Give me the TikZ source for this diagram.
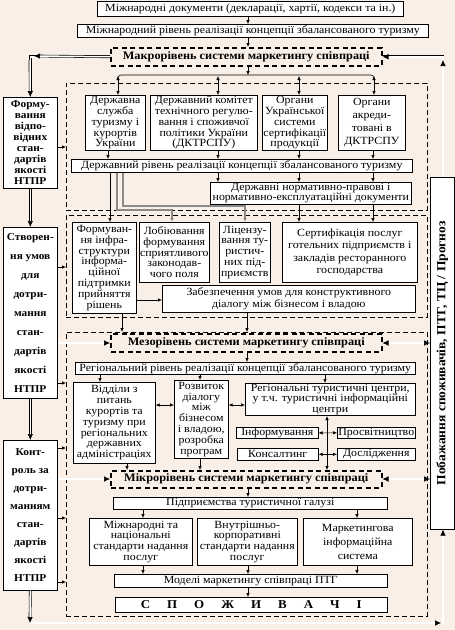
\documentclass[tikz,border=0pt]{standalone}
\usepackage{fontspec}
\setmainfont{Liberation Serif}[FakeStretch=1.08]
\usetikzlibrary{arrows.meta,positioning,calc}
\definecolor{paper}{HTML}{FAEFE6}
\definecolor{lgrey}{HTML}{8A8A8A}

\tikzset{
  box/.style={draw, fill=white, inner sep=0.6pt, align=center, anchor=north west, font=\fontsize{11}{10.8}\selectfont},
  lvlbox/.style={box, fill=paper, line width=1.5pt, dash pattern=on 5pt off 3.5pt, font=\bfseries\fontsize{11.4}{12}\selectfont},
  sidebox/.style={box, font=\bfseries\fontsize{10.5}{11}\selectfont},
  grp/.style={draw, dash pattern=on 5pt off 3pt, anchor=north west, inner sep=0pt},
  arr/.style={-{Latex[length=4pt,width=3.5pt]}},
  darr/.style={{Latex[length=4pt,width=3.5pt]}-{Latex[length=4pt,width=3.5pt]}},
  dbl/.style={double, double distance=1.5pt, -{Latex[length=6pt,width=5.5pt]}},
  ddbl/.style={double, double distance=1.5pt, {Latex[length=6pt,width=5.5pt]}-{Latex[length=6pt,width=5.5pt]}},
  dline/.style={double, double distance=1.5pt},
  gline/.style={draw=lgrey, line width=1.4pt, -{Latex[length=4pt,width=3.5pt]}},
}
\newcommand{\lsp}{\hspace{17pt}}

\begin{document}
\begin{tikzpicture}[x=1pt, y=-1pt, line width=0.6pt]
\fill[paper] (0,0) rectangle (455,630);
\useasboundingbox (0,0) rectangle (455,630);

% dashed groups
\node[grp, minimum width=361pt, minimum height=127pt] (c1) at (66,83) {};
\node[grp, minimum width=361pt, minimum height=102pt] (c2) at (66,215) {};
\node[grp, minimum width=361pt, minimum height=284pt] (c3) at (66,332) {};

% international level
\node[box, minimum width=306pt, minimum height=15pt] (intdoc) at (97,1) {Міжнародні документи (декларації, хартії, кодекси та ін.)};
\node[box, minimum width=351pt, minimum height=13pt] (intlvl) at (77,24) {Міжнародний рівень реалізації концепції збалансованого туризму};
\node[lvlbox, minimum width=271pt, minimum height=18pt] (macro) at (110,47) {Макрорівень системи маркетингу співпраці};

% state level
\node[box, minimum width=60pt, minimum height=55pt] (ds1) at (85,95) {Державна\\служба\\туризму і\\курортів\\України};
\node[box, minimum width=107pt, minimum height=55pt] (ds2) at (150,95) {Державний комітет\\технічного регулю-\\вання і споживчої\\політики України\\(ДКТРСПУ)};
\node[box, minimum width=65pt, minimum height=55pt] (ds3) at (262,95) {Органи\\Української\\системи\\сертифікації\\продукції};
\node[box, minimum width=67pt, minimum height=55pt, font=\fontsize{11}{13}\selectfont] (ds4) at (338,95) {Органи\\акреди-\\товані в\\ДКТРСПУ};
\node[box, minimum width=341pt, minimum height=13pt] (statelvl) at (71,159) {Державний рівень реалізації концепції збалансованого туризму};
\node[box, minimum width=201pt, minimum height=21pt] (docs) at (210,182) {Державні нормативно-правові і\\нормативно-експлуатаційні документи};

% state measures
\node[box, minimum width=64pt, minimum height=91pt] (infra) at (72,222) {Формуван-\\ня інфра-\\структури\\інформа-\\ційної\\підтримки\\прийняття\\рішень};
\node[box, minimum width=70pt, minimum height=60pt] (lob) at (139,222) {Лобіювання\\формування\\сприятливого\\законодав-\\чого поля};
\node[box, minimum width=51pt, minimum height=60pt] (lic) at (219,222) {Ліцензу-\\вання ту-\\ристич-\\них під-\\приємств};
\node[box, minimum width=135pt, minimum height=60pt, font=\fontsize{11}{12.5}\selectfont] (cert) at (282,222) {Сертифікація послуг\\готельних підприємств і\\закладів ресторанного\\господарства};
\node[box, minimum width=253pt, minimum height=27pt, font=\fontsize{11}{12}\selectfont] (dial) at (162,285) {Забезпечення умов для конструктивного\\діалогу між бізнесом і владою};

% meso level
\node[lvlbox, minimum width=271pt, minimum height=18pt] (meso) at (110,333) {Мезорівень системи маркетингу співпраці};
\node[box, minimum width=340pt, minimum height=12pt] (reglvl) at (75,362) {Регіональний рівень реалізації концепції збалансованого туризму};
\node[box, minimum width=82pt, minimum height=81pt] (vidd) at (73,382) {Відділи з\\питань\\курортів та\\туризму при\\регіональних\\державних\\адміністраціях};
\node[box, minimum width=54pt, minimum height=78pt] (rozv) at (174,380) {Розвиток\\діалогу\\між\\бізнесом\\і владою,\\розробка\\програм};
\node[box, minimum width=170pt, minimum height=32pt] (rtc) at (245,383) {Регіональні туристичні центри,\\у т.ч. туристичні інформаційні\\центри};
\node[box, minimum width=82pt, minimum height=11pt] (inform) at (236,427) {Інформування};
\node[box, minimum width=78pt, minimum height=11pt] (prosv) at (337,427) {Просвітництво};
\node[box, minimum width=81pt, minimum height=12pt] (kons) at (237,448) {Консалтинг};
\node[box, minimum width=78pt, minimum height=12pt] (dosl) at (337,448) {Дослідження};

% micro level
\node[lvlbox, minimum width=271pt, minimum height=17pt] (micro) at (110,470) {Мікрорівень системи маркетингу співпраці};
\node[box, minimum width=274pt, minimum height=12pt] (pidpr) at (113,497) {Підприємства туристичної галузі};
\node[box, minimum width=103pt, minimum height=47pt] (st1) at (89,518) {Міжнародні та\\національні\\стандарти надання\\послуг};
\node[box, minimum width=100pt, minimum height=47pt] (st2) at (197,518) {Внутрішньо-\\корпоративні\\стандарти надання\\послуг};
\node[box, minimum width=109pt, minimum height=47pt, font=\fontsize{11}{14}\selectfont] (st3) at (303,518) {Маркетингова\\інформаційна\\система};
\node[box, minimum width=273pt, minimum height=13pt] (models) at (114,574) {Моделі маркетингу співпраці ПТГ};
\node[box, minimum width=272pt, minimum height=15pt, font=\bfseries\fontsize{12}{12}\selectfont] (spoz) at (115,597) {С\lsp П\lsp О\lsp Ж\lsp И\lsp В\lsp А\lsp Ч\lsp І};

% side columns
\node[sidebox, minimum width=54pt, minimum height=91pt] (form) at (3,97) {Форму-\\вання\\відпо-\\відних\\стан-\\дартів\\якості\\НТПР};
\node[sidebox, minimum width=54pt, minimum height=171pt, font=\bfseries\fontsize{10.5}{19}\selectfont] (stv) at (3,227) {Створен-\\ня умов\\для\\дотри-\\мання\\стан-\\дартів\\якості\\НТПР};
\node[sidebox, minimum width=54pt, minimum height=150pt, font=\bfseries\fontsize{10.5}{18}\selectfont] (kontr) at (3,440) {Конт-\\роль за\\дотри-\\манням\\стан-\\дартів\\якості\\НТПР};
\node[sidebox, minimum width=24pt, minimum height=352pt] (pob) at (430,177) {};
\node[rotate=90, font=\bfseries\fontsize{12.5}{12.5}\selectfont] (pobtxt) at (pob.center) {Побажання споживачів, ПТГ, ТЦ / Прогноз};

% arrows, top
\draw[arr] (intdoc.south -| 248,0) -- (intlvl.north -| 248,0);
\draw[arr] (intlvl.south -| 248,0) -- (macro.north -| 248,0);
\draw[dline] (macro.west) -| ($(form.north)+(0,-4)$);
\draw[dbl] (macro.west) -- (34,56);
\draw[dbl] (30,60) -- (form.north);
\draw[dline] (pob.north -| 443,0) |- (macro.east);
\draw[dbl] ($(macro.east)+(50,0)$) -- (macro.east);
\draw[dbl] (pob.north -| 443,0) -- (443,60);
\coordinate (bar) at (248,75);
\draw[arr] (macro.south -| bar) -- (bar);
\draw[rounded corners=3pt] (118,80) -- (118,75) -- (374,75) -- (374,80);
\foreach \x/\b in {118/ds1,218/ds2,299/ds3,374/ds4}
  \draw[darr] (\x,76) -- (\b.north -| \x,0);
\foreach \x/\b in {108/ds1,218/ds2,299/ds3,373/ds4}
  \draw[arr] (\b.south -| \x,0) -- (statelvl.north -| \x,0);
\foreach \x in {218,299,373}
  \draw[arr] (statelvl.south -| \x,0) -- (docs.north -| \x,0);
\foreach \x in {299,373}
  \draw[arr] (docs.south -| \x,0) -- (cert.north -| \x,0);
\draw[arr] (statelvl.south -| 110,0) -- (infra.north -| 110,0);
\draw[gline] (statelvl.south -| 117,0) -- (117,210) -- (172,210) -- (lob.north -| 172,0);
\draw[gline] (statelvl.south -| 123,0) -- (123,206) -- (245,206) -- (lic.north -| 245,0);

% arrows, middle
\draw[arr] (infra.east |- 0,300) -- (dial.west |- 0,300);
\draw[arr] (infra.south -| 122,0) -- (c3.north -| 122,0);
\draw[arr] (dial.south -| 247,0) -- (c3.north -| 247,0);
\draw[arr] (meso.south -| 247,0) -- (reglvl.north -| 247,0);
\draw[arr] (reglvl.south -| 100,0) -- (vidd.north -| 100,0);
\draw[arr] (reglvl.south -| 200,0) -- (rozv.north -| 200,0);
\draw[arr] (reglvl.south -| 325,0) -- (rtc.north -| 325,0);
\draw[darr] (vidd.east |- 0,405) -- (rozv.west |- 0,405);
\draw[darr] (rozv.east |- 0,405) -- (rtc.west |- 0,405);
\draw[darr] (rtc.south -| 327,0) -- (micro.north -| 327,0);
\draw[darr] (inform.east) -- (prosv.west);
\draw[darr] (kons.east) -- (dosl.west);
\draw[arr] (vidd.south -| 127,0) -- (micro.north -| 127,0);
\draw[arr] (rozv.south -| 200,0) -- (micro.north -| 200,0);

% arrows, bottom
\draw[arr] (micro.south -| 248,0) -- (pidpr.north -| 248,0);
\draw[arr] (pidpr.south -| 143,0) -- (st1.north -| 143,0);
\draw[arr] (pidpr.south -| 357,0) -- (st3.north -| 357,0);
\draw[arr] (st1.south -| 143,0) -- (models.north -| 143,0);
\draw[arr] (st2.south -| 248,0) -- (models.north -| 248,0);
\draw[arr] (st3.south -| 357,0) -- (models.north -| 357,0);
\draw[arr] (models.south -| 248,0) -- (spoz.north -| 248,0);

% side arrows
\draw[arr] (form.east |- 0,147) -- (c1.west |- 0,147);
\draw[arr] (stv.east |- 0,267) -- (c2.west |- 0,267);
\draw[arr] (stv.east |- 0,383) -- (c3.west |- 0,383);
\foreach \y in {448,518,582}
  \draw[arr] (kontr.east |- 0,\y) -- (c3.west |- 0,\y);
\draw[dbl] (form.south) -- (stv.north);
\draw[dbl] (stv.south) -- (kontr.north);
\draw[dbl] (stv.east |- 0,343) -- (meso.west |- 0,343);
\draw[dbl] (kontr.east |- 0,479) -- (micro.west |- 0,479);
\draw[ddbl] (meso.east |- 0,343) -- (pob.west |- 0,343);
\draw[ddbl] (micro.east |- 0,479) -- (pob.west |- 0,479);
\draw[dline] (30,619) -- (30,623) -- (438,623);
\draw[dline] (443,619) -- (443,623);
\draw[dbl] (kontr.south) -- (30,623);
\draw[dbl] (34,623) -- (441,623);
\draw[dbl] (443,625) -- (pob.south -| 443,0);
\end{tikzpicture}
\end{document}
